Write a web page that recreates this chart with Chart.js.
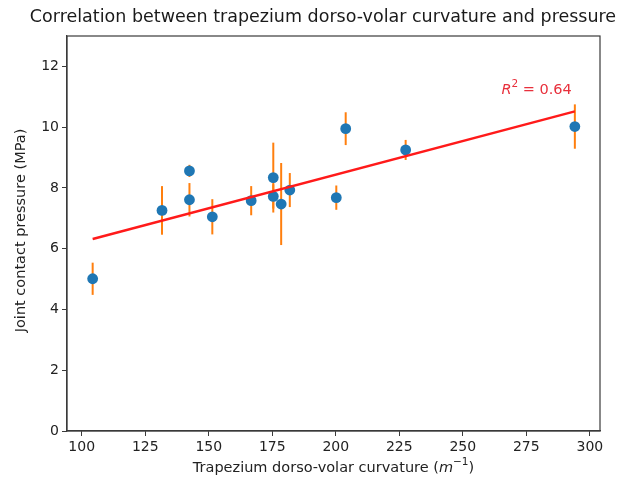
<!DOCTYPE html>
<html>
<head>
<meta charset="utf-8">
<script src="https://cdn.jsdelivr.net/npm/chart.js@4.4.1/dist/chart.umd.min.js"></script>
<style>
  html, body { margin: 0; padding: 0; background: #fff; }
  canvas { display: block; }
</style>
</head>
<body>
<canvas id="c" width="643" height="482"></canvas>
<script>
// ---- data ----
const curvature   = [104.3, 131.6, 142.4, 142.4, 151.4, 166.7, 175.4, 175.4, 178.5, 181.9, 200.2, 203.9, 227.5, 294.1];
const pressure    = [5.01, 7.26, 8.56, 7.61, 7.05, 7.58, 8.34, 7.72, 7.47, 7.93, 7.68, 9.95, 9.25, 10.02];
const pressureErr = [0.53, 0.80, 0.20, 0.55, 0.58, 0.48, 1.15, 0.40, 1.35, 0.56, 0.40, 0.54, 0.33, 0.73];
const fitX = [104.3, 294.1];
const fitY = [6.32, 10.52];
const xTicks = [100, 125, 150, 175, 200, 225, 250, 275, 300];
const yTicks = [0, 2, 4, 6, 8, 10, 12];
const r2Label = "0.64";
const titleText = "Correlation between trapezium dorso-volar curvature and pressure";
const yTitleText = "Joint contact pressure (MPa)";

const FONT = "'DejaVu Sans', sans-serif";
const AXIS_COLOR = '#3a3a3a';
const TICK_SIZE = 14;
const LABEL_SIZE = 14.5;

const scatterData = curvature.map((x, i) => ({ x: x, y: pressure[i] }));
const fitData = fitX.map((x, i) => ({ x: x, y: fitY[i] }));

const errorBarPlugin = {
  id: 'errorBars',
  beforeDatasetsDraw(chart) {
    const { ctx, scales: { x, y } } = chart;
    ctx.save();
    ctx.strokeStyle = '#ff7f0e';
    ctx.lineWidth = 2;
    curvature.forEach((cx, i) => {
      const px = x.getPixelForValue(cx);
      ctx.beginPath();
      ctx.moveTo(px, y.getPixelForValue(pressure[i] - pressureErr[i]));
      ctx.lineTo(px, y.getPixelForValue(pressure[i] + pressureErr[i]));
      ctx.stroke();
    });
    ctx.restore();
  }
};

const decorPlugin = {
  id: 'decor',
  afterDraw(chart) {
    const { ctx, chartArea: a, scales: { x, y } } = chart;
    ctx.save();
    // frame
    ctx.strokeStyle = AXIS_COLOR;
    ctx.lineWidth = 1.2;
    ctx.strokeRect(a.left, a.top, a.right - a.left, a.bottom - a.top);

    // title
    ctx.fillStyle = '#1a1a1a';
    ctx.font = `17.5px ${FONT}`;
    ctx.textAlign = 'center';
    ctx.textBaseline = 'middle';
    ctx.fillText(titleText, 323, 17);

    // y title
    ctx.save();
    ctx.translate(21, (a.top + a.bottom) / 2 - 3);
    ctx.rotate(-Math.PI / 2);
    ctx.font = `${LABEL_SIZE}px ${FONT}`;
    ctx.fillStyle = '#222';
    ctx.fillText(yTitleText, 0, 0);
    ctx.restore();

    // x title with italic m and superscript
    const parts = [
      { t: 'Trapezium dorso-volar curvature (', f: `${LABEL_SIZE}px ${FONT}`, dy: 0 },
      { t: 'm', f: `italic ${LABEL_SIZE}px ${FONT}`, dy: 0 },
      { t: '\u22121', f: `10.5px ${FONT}`, dy: -6 },
      { t: ')', f: `${LABEL_SIZE}px ${FONT}`, dy: 0 }
    ];
    let total = 0;
    parts.forEach(p => { ctx.font = p.f; p.w = ctx.measureText(p.t).width; total += p.w; });
    let cx = (a.left + a.right) / 2 - total / 2;
    ctx.textAlign = 'left';
    ctx.fillStyle = '#222';
    parts.forEach(p => { ctx.font = p.f; ctx.fillText(p.t, cx, 468 + p.dy); cx += p.w; });

    // R^2 annotation
    const rx = x.getPixelForValue(292.9);
    const ry = y.getPixelForValue(11.23);
    const rparts = [
      { t: 'R', f: `italic ${LABEL_SIZE}px ${FONT}`, dy: 0 },
      { t: '2', f: `10.5px ${FONT}`, dy: -6 },
      { t: ' = ' + r2Label, f: `${LABEL_SIZE}px ${FONT}`, dy: 0 }
    ];
    let rt = 0;
    rparts.forEach(p => { ctx.font = p.f; p.w = ctx.measureText(p.t).width; rt += p.w; });
    let rxx = rx - rt;
    ctx.fillStyle = '#e8303c';
    rparts.forEach(p => { ctx.font = p.f; ctx.fillText(p.t, rxx, ry + p.dy); rxx += p.w; });
    ctx.restore();
  }
};

new Chart(document.getElementById('c'), {
  type: 'scatter',
  data: {
    datasets: [
      {
        type: 'line',
        data: fitData,
        borderColor: '#ff1a1a',
        borderWidth: 2.4,
        pointRadius: 0,
        fill: false,
        order: 0
      },
      {
        data: scatterData,
        backgroundColor: '#1f77b4',
        borderWidth: 0,
        pointRadius: 5.4,
        order: 1
      }
    ]
  },
  options: {
    responsive: false,
    animation: false,
    layout: { padding: { left: 0, right: 43, top: 36, bottom: 0 } },
    plugins: { legend: { display: false }, tooltip: { enabled: false }, title: { display: false } },
    scales: {
      x: {
        type: 'linear',
        min: 94.2,
        max: 304,
        afterBuildTicks: s => { s.ticks = xTicks.map(v => ({ value: v })); },
        afterFit: s => { s.height = 51; },
        ticks: { font: { family: FONT, size: TICK_SIZE }, color: '#222', padding: 3, maxRotation: 0 },
        grid: { drawOnChartArea: false, drawTicks: true, tickLength: 5, color: AXIS_COLOR },
        border: { display: true, color: AXIS_COLOR, width: 1.2 }
      },
      y: {
        min: 0,
        max: 13,
        afterBuildTicks: s => { s.ticks = yTicks.map(v => ({ value: v })); },
        afterFit: s => { s.width = 67; },
        ticks: { font: { family: FONT, size: TICK_SIZE }, color: '#222', padding: 3 },
        grid: { drawOnChartArea: false, drawTicks: true, tickLength: 5, color: AXIS_COLOR },
        border: { display: true, color: AXIS_COLOR, width: 1.2 }
      }
    }
  },
  plugins: [errorBarPlugin, decorPlugin]
});
</script>
</body>
</html>
